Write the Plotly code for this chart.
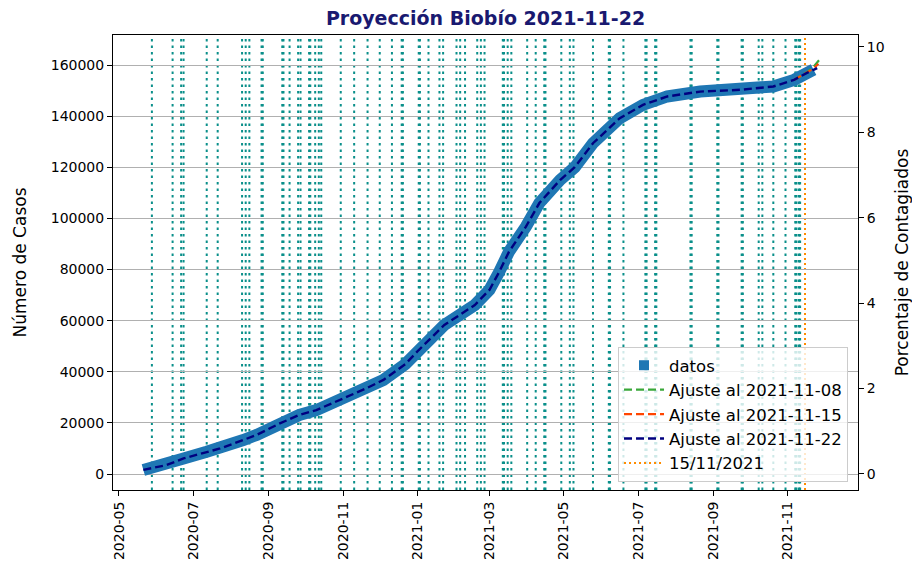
import plotly.graph_objects as go

# ---------------- data ----------------
data_dates = ["2020-05-21", "2020-06-09", "2020-06-23", "2020-07-12", "2020-07-23", "2020-08-11",
              "2020-08-22", "2020-09-10", "2020-09-26", "2020-10-10", "2020-10-29", "2020-11-20",
              "2020-12-04", "2020-12-22", "2021-01-02", "2021-01-23", "2021-02-17", "2021-03-01",
              "2021-03-09", "2021-03-17", "2021-03-31", "2021-04-11", "2021-04-28", "2021-05-10",
              "2021-05-25", "2021-06-16", "2021-07-05", "2021-07-25", "2021-08-21", "2021-09-23",
              "2021-10-20", "2021-11-06", "2021-11-17", "2021-11-22"]
data_cases = [1600, 3500, 6100, 8700, 10000, 13300, 15300, 19800, 23100, 25000, 29000, 33500,
              36800, 43000, 48500, 58300, 66100, 72000, 79000, 86900, 96800, 106000, 115000, 120000,
              129400, 139200, 144400, 147700, 149600, 150300, 151600, 154200, 157000, 158200]

fit_22_dates = data_dates + ["2021-11-25"]
fit_22_vals = data_cases + [158800]
fit_15_dates = ["2021-11-06", "2021-11-17", "2021-11-22", "2021-11-26"]
fit_15_vals = [154200, 157100, 158600, 160500]
fit_08_dates = ["2021-11-06", "2021-11-17", "2021-11-22", "2021-11-28"]
fit_08_vals = [154200, 157300, 159300, 162700]

population = 1671000

report_dates = ["2020-05-28", "2020-06-14", "2020-06-21", "2020-06-23", "2020-07-12", "2020-07-21",
                "2020-08-10", "2020-08-13", "2020-08-16", "2020-08-26", "2020-08-27", "2020-09-12",
                "2020-09-13", "2020-09-18", "2020-09-25", "2020-09-27", "2020-10-04", "2020-10-05",
                "2020-10-09", "2020-10-12", "2020-10-14", "2020-10-30", "2020-11-10", "2020-11-21",
                "2020-12-01", "2020-12-11", "2020-12-19", "2020-12-20", "2021-01-02", "2021-01-03",
                "2021-01-10", "2021-01-19", "2021-01-22", "2021-02-02", "2021-02-05", "2021-02-09",
                "2021-02-19", "2021-02-22", "2021-02-25", "2021-03-12", "2021-03-13", "2021-03-16",
                "2021-03-19", "2021-04-01", "2021-04-08", "2021-04-15", "2021-04-16", "2021-04-29",
                "2021-05-06", "2021-05-09", "2021-05-25", "2021-06-07", "2021-06-08", "2021-06-19",
                "2021-07-07", "2021-07-08", "2021-07-15", "2021-07-16", "2021-08-13", "2021-08-14",
                "2021-09-04", "2021-09-05", "2021-09-24", "2021-09-25", "2021-10-08", "2021-10-11",
                "2021-10-20", "2021-10-30", "2021-11-07", "2021-11-08", "2021-11-10", "2021-11-11"]
marker_date = "2021-11-15"

title_text = "Proyección Biobío 2021-11-22"
legend_names = ["datos", "Ajuste al 2021-11-08", "Ajuste al 2021-11-15", "Ajuste al 2021-11-22", "15/11/2021"]

# ---------------- figure ----------------
FONT = "DejaVu Sans"
fig = go.Figure()

fig.add_trace(go.Scatter(x=data_dates, y=data_cases, mode="lines",
                         line=dict(color="#1f77b4", width=12), showlegend=False,
                         hoverinfo="skip"))
fig.add_trace(go.Scatter(x=[None], y=[None], mode="markers", name=legend_names[0],
                         marker=dict(symbol="square", size=10, color="#1f77b4")))
fig.add_trace(go.Scatter(x=fit_08_dates, y=fit_08_vals, mode="lines", name=legend_names[1],
                         line=dict(color="#3aa83a", width=2.2, dash="8px,4px")))
fig.add_trace(go.Scatter(x=fit_15_dates, y=fit_15_vals, mode="lines", name=legend_names[2],
                         line=dict(color="#ff4500", width=2.2, dash="8px,4px")))
fig.add_trace(go.Scatter(x=fit_22_dates, y=fit_22_vals, mode="lines", name=legend_names[3],
                         line=dict(color="#000080", width=2.4, dash="8px,4px")))
fig.add_trace(go.Scatter(x=data_dates, y=[c / population * 100 for c in data_cases],
                         yaxis="y2", mode="lines", line=dict(width=0, color="rgba(0,0,0,0)"),
                         showlegend=False, hoverinfo="skip"))

for d in report_dates:
    fig.add_shape(type="line", xref="x", yref="paper", x0=d, x1=d, y0=0, y1=1,
                  line=dict(color="#0a8f8a", width=2, dash="2.5px,4px"), layer="between")

fig.add_shape(type="line", xref="x", yref="paper", x0=marker_date, x1=marker_date, y0=0, y1=1,
              line=dict(color="#ff8c00", width=2, dash="2px,3px"), layer="between",
              showlegend=True, name=legend_names[4])

# the page body adds an 8px offset, so margins are shifted by 8px
fig.update_layout(
    width=920, height=574,
    margin=dict(l=105, r=70, t=27, b=92, autoexpand=False),
    paper_bgcolor="white", plot_bgcolor="white",
    font=dict(family=FONT, size=14, color="black"),
    title=dict(text="<b>" + title_text + "</b>", x=0.5, xref="paper", xanchor="center",
               y=1 - 4 / 574, yanchor="top", font=dict(size=19, color="#191970")),
    showlegend=True,
    legend=dict(x=0.9866, y=0.0176, xanchor="right", yanchor="bottom",
                bgcolor="rgba(255,255,255,0.8)", bordercolor="#cccccc", borderwidth=1,
                font=dict(size=16.5), itemwidth=40, tracegroupgap=0),
    xaxis=dict(type="date", range=["2020-04-26 02:00", "2021-12-28 12:00"], automargin=False,
               tick0="2020-05-01", dtick="M2", tickformat="%Y-%m", tickangle=-90,
               ticks="outside", ticklen=5, tickcolor="black", showgrid=False,
               showline=True, linecolor="black", linewidth=1, mirror=True, zeroline=False),
    yaxis=dict(range=[-6259, 171740], tick0=0, dtick=20000, tickformat="d", automargin=False,
               ticks="outside", ticklen=5, tickcolor="black",
               showgrid=True, gridcolor="#b0b0b0", gridwidth=1,
               showline=True, linecolor="black", linewidth=1, zeroline=False,
               title=dict(text="Número de Casos", standoff=19)),
    yaxis2=dict(range=[-0.375, 10.28], overlaying="y", side="right", tick0=0, dtick=2,
                automargin=False,
                ticks="outside", ticklen=5, tickcolor="black", showgrid=False,
                showline=True, linecolor="black", linewidth=1, zeroline=False,
                title=dict(text="Porcentaje de Contagiados", standoff=12)),
)

fig.write_html("out.html")
